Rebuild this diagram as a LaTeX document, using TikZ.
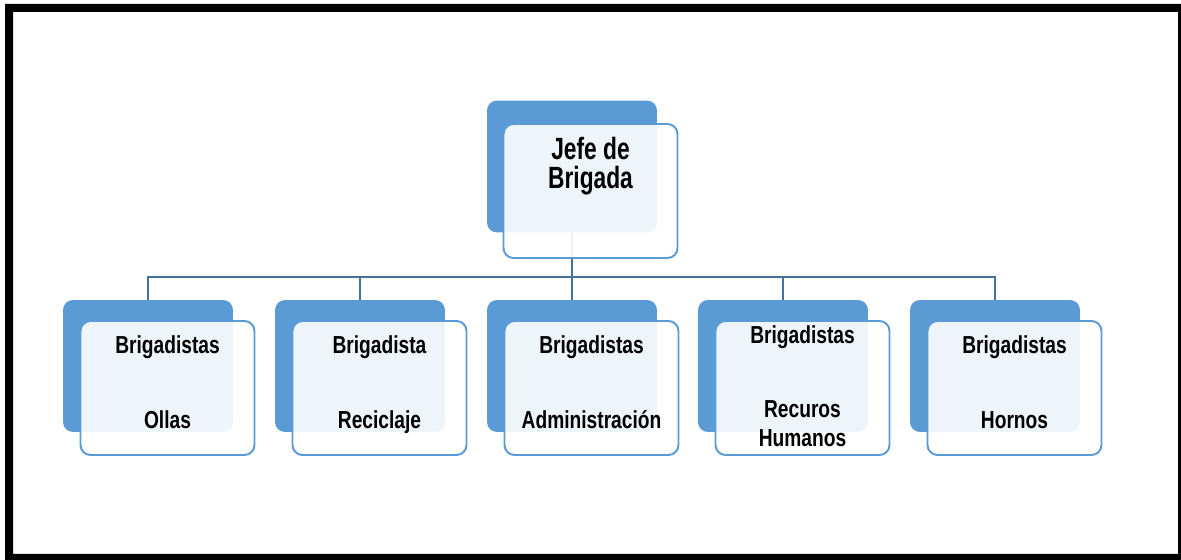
\documentclass[tikz,border=0pt]{standalone}
\usepackage{fontspec}
\usetikzlibrary{calc}
\newfontfamily\orgfont{Liberation Sans}[FakeStretch=0.78]
\newfontfamily\topfont{Liberation Sans}[FakeStretch=0.74]
\definecolor{boxblue}{HTML}{5B9BD5}
\definecolor{lineblue}{HTML}{41719C}
\newcommand{\lowstrut}{\rule[-7pt]{0pt}{0pt}}
\tikzset{
	backbox/.style={fill=boxblue, rounded corners=0.2cm, inner sep=0pt,
		minimum width=3.4cm, minimum height=2.64cm},
	frontbox/.style={draw=boxblue, line width=1.1pt, fill=white, fill opacity=0.9,
		text opacity=1, rounded corners=0.2cm, inner sep=0pt,
		minimum width=3.48cm, minimum height=2.68cm, align=center,
		font=\orgfont\bfseries\fontsize{14}{16.4}\selectfont},
	toptext/.style={align=center, font=\topfont\bfseries\fontsize{17.5}{16.6}\selectfont},
	conn/.style={draw=lineblue, line width=1.1pt}
}
\newcommand{\myBackBox}[2]{
\node[backbox] (#1-back) at (#2,366) {};
}
\newcommand{\myFrontBox}[2]{
\node[frontbox] (#1) at ($(#1-back)+(19.5,22)$) {#2};
}

\begin{document}
\begin{tikzpicture}[x=0.02cm, y=-0.02cm]
	\useasboundingbox (0,0) rectangle (1181,560);
	\fill[black, even odd rule] (5,4) rectangle (1181,560) (13,12) rectangle (1178,554);

	\node[backbox] (jefe-back) at (572,166.5) {};
	\myBackBox{ollas}{148}
	\myBackBox{reciclaje}{360}
	\myBackBox{admin}{572}
	\myBackBox{rrhh}{783}
	\myBackBox{hornos}{995}

	\coordinate (bus) at (572,277);
	\draw[conn] (jefe-back.south) -- (bus);
	\foreach \n in {ollas,reciclaje,admin,rrhh,hornos}
		\draw[conn] (bus) -| (\n-back.north);

	\node[frontbox] (jefe-front) at ($(jefe-back)+(18.5,24.5)$) {};
	\node[toptext] (jefe) at ($(jefe-front)+(0,-25)$) {Jefe de\\Brigada};
	\myFrontBox{ollas}{Brigadistas\\[26pt]Ollas\lowstrut}
	\myFrontBox{reciclaje}{Brigadista\\[26pt]Reciclaje\lowstrut}
	\myFrontBox{admin}{Brigadistas\\[26pt]Administración\lowstrut}
	\myFrontBox{rrhh}{Brigadistas\\[26pt]Recuros\\[0pt]Humanos\rule[-2pt]{0pt}{0pt}}
	\myFrontBox{hornos}{Brigadistas\\[26pt]Hornos\lowstrut}
\end{tikzpicture}
\end{document}
